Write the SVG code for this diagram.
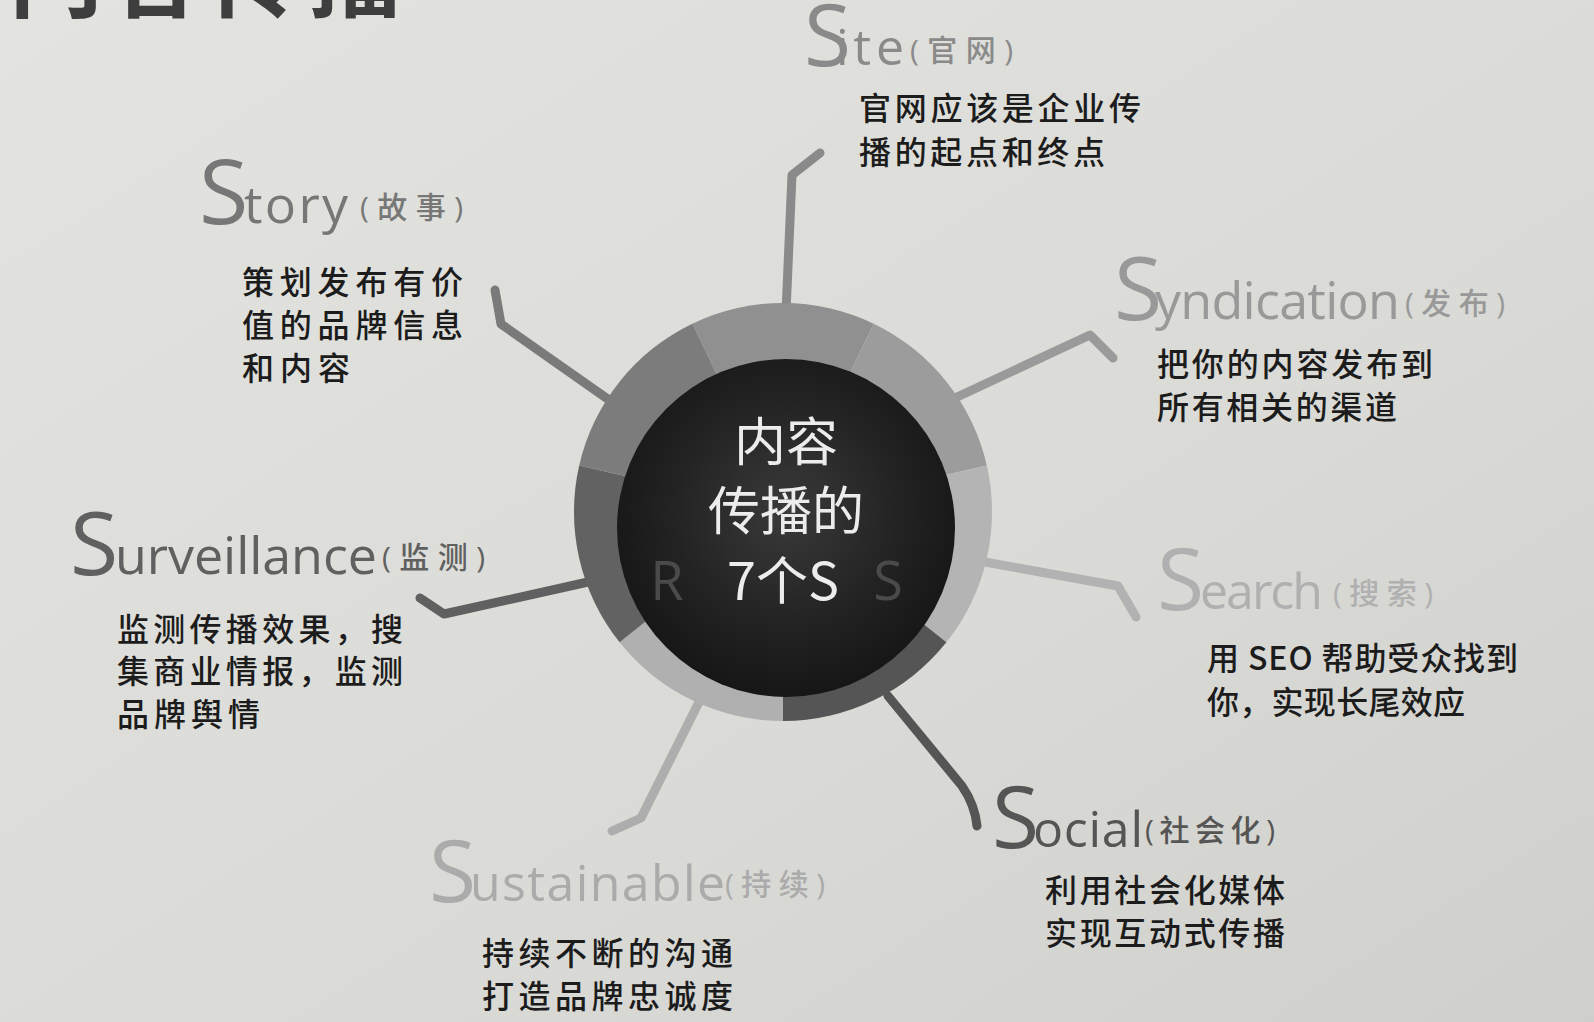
<svg xmlns="http://www.w3.org/2000/svg" width="1594" height="1022" viewBox="0 0 1594 1022">
<style>
.s{font-family:"Open Sans","Noto Sans",sans-serif;font-weight:400}
.w{font-family:"Open Sans","Noto Sans",sans-serif;font-weight:400}
.p{font-family:"Open Sans","Noto Sans CJK SC",sans-serif;font-weight:500;font-size:30px}
.d{font-family:"Noto Sans CJK SC",sans-serif;font-weight:500;font-size:32px;fill:#1c1c1c}
.c{font-family:"Noto Sans CJK SC",sans-serif;font-weight:400;font-size:52px;fill:#ececec;text-anchor:middle}
.sp{fill:none;stroke-width:9;stroke-linecap:round;stroke-linejoin:round}
</style>
<defs>
<linearGradient id="bg" x1="0" y1="0" x2="1" y2="1">
<stop offset="0" stop-color="#e3e3df"/>
<stop offset="0.6" stop-color="#dadad6"/>
<stop offset="1" stop-color="#cfcfcb"/>
</linearGradient>
<radialGradient id="core" cx="0.5" cy="0.45" r="0.55">
<stop offset="0" stop-color="#3a3a3a"/>
<stop offset="0.6" stop-color="#232323"/>
<stop offset="1" stop-color="#161616"/>
</radialGradient>
</defs>
<rect width="1594" height="1022" fill="url(#bg)"/>
<text x="8" y="9" font-family="Noto Sans CJK SC, sans-serif" font-weight="700" font-size="96" letter-spacing="4" fill="#3e3e3e">内容传播</text>

<g id="connectors">
<path class="sp" stroke="#8a8a8a" d="M786,312 L792,175 L820,153"/>
<path class="sp" stroke="#7a7a7a" d="M612,402 L501,324 L495,290"/>
<path class="sp" stroke="#9a9a9a" d="M955,398 L1090,335 L1113,358"/>
<path class="sp" stroke="#b2b2b2" d="M985,562 L1118,586 L1136,617"/>
<path class="sp" stroke="#555555" d="M888,696 L962,786 Q975,805 977,826"/>
<path class="sp" stroke="#adadad" d="M700,700 L641,818 L612,831"/>
<path class="sp" stroke="#606060" d="M588,582 L444,614 L420,598"/>
</g>

<g id="center">
<path fill="#909090" d="M783,512 L692.3,323.7 A209,209 0 0 1 873.7,323.7 Z"/>
<path fill="#9c9c9c" d="M783,512 L873.7,323.7 A209,209 0 0 1 986.8,465.5 Z"/>
<path fill="#b4b4b4" d="M783,512 L986.8,465.5 A209,209 0 0 1 946.4,642.3 Z"/>
<path fill="#555555" d="M783,512 L946.4,642.3 A209,209 0 0 1 783,721 Z"/>
<path fill="#b0b0b0" d="M783,512 L783,721 A209,209 0 0 1 619.6,642.3 Z"/>
<path fill="#626262" d="M783,512 L619.6,642.3 A209,209 0 0 1 579.2,465.5 Z"/>
<path fill="#7c7c7c" d="M783,512 L579.2,465.5 A209,209 0 0 1 692.3,323.7 Z"/>
<circle cx="786" cy="528" r="169" fill="url(#core)"/>
<text class="c" x="786" y="461">内容</text>
<text class="c" x="786" y="530">传播的</text>
<text x="667" y="600" font-family="Open Sans, sans-serif" font-size="54" fill="#4a4a4a" text-anchor="middle">R</text>
<text x="888" y="600" font-family="Open Sans, sans-serif" font-size="54" fill="#4a4a4a" text-anchor="middle">S</text>
<text class="c" x="783" y="600">7个S</text>
</g>

<g id="node-site">
<text class="s" x="804" y="66" font-size="86" fill="#8a8a8a">S</text>
<text class="w" x="836" y="65" font-size="50" fill="#8a8a8a" textLength="68">ite</text>
<text class="p" x="910" y="61" fill="#8a8a8a" textLength="103">(官网)</text>
<text class="d" x="859" y="120" textLength="282">官网应该是企业传</text>
<text class="d" x="859" y="164" textLength="246">播的起点和终点</text>
</g>

<g id="node-story">
<text class="s" x="199" y="224" font-size="90" fill="#777777">S</text>
<text class="w" x="244" y="223" font-size="52" fill="#777777" textLength="104">tory</text>
<text class="p" x="360" y="218" fill="#777777" textLength="103">(故事)</text>
<text class="d" x="242" y="294" textLength="221">策划发布有价</text>
<text class="d" x="242" y="337" textLength="221">值的品牌信息</text>
<text class="d" x="242" y="380" textLength="108">和内容</text>
</g>

<g id="node-syndication">
<text class="s" x="1114" y="320" font-size="88" fill="#999999">S</text>
<text class="w" x="1155" y="319" font-size="52" fill="#999999" textLength="245">yndication</text>
<text class="p" x="1405" y="314" fill="#999999" textLength="100">(发布)</text>
<text class="d" x="1157" y="376" textLength="276">把你的内容发布到</text>
<text class="d" x="1157" y="419" textLength="240">所有相关的渠道</text>
</g>

<g id="node-search">
<text class="s" x="1157" y="610" font-size="86" fill="#b0b0b0">S</text>
<text class="w" x="1200" y="609" font-size="50" fill="#b0b0b0" textLength="123">earch</text>
<text class="p" x="1333" y="604" fill="#b0b0b0" textLength="100">(搜索)</text>
<text class="d" x="1207" y="670" textLength="311">用 SEO 帮助受众找到</text>
<text class="d" x="1207" y="714" textLength="258">你，实现长尾效应</text>
</g>

<g id="node-social">
<text class="s" x="992" y="848" font-size="86" fill="#555555">S</text>
<text class="w" x="1033" y="847" font-size="50" fill="#555555" textLength="110">ocial</text>
<text class="p" x="1145" y="841" fill="#555555" textLength="130">(社会化)</text>
<text class="d" x="1045" y="902" textLength="240">利用社会化媒体</text>
<text class="d" x="1045" y="945" textLength="240">实现互动式传播</text>
</g>

<g id="node-sustainable">
<text class="s" x="429" y="902" font-size="86" fill="#ababab">S</text>
<text class="w" x="470" y="901" font-size="50" fill="#ababab" textLength="255">ustainable</text>
<text class="p" x="725" y="895" fill="#ababab" textLength="100">(持续)</text>
<text class="d" x="482" y="965" textLength="251">持续不断的沟通</text>
<text class="d" x="482" y="1008" textLength="251">打造品牌忠诚度</text>
</g>

<g id="node-surveillance">
<text class="s" x="70" y="575" font-size="88" fill="#606060">S</text>
<text class="w" x="115" y="574" font-size="52" fill="#606060" textLength="262">urveillance</text>
<text class="p" x="382" y="568" fill="#606060" textLength="103">(监测)</text>
<text class="d" x="117" y="641" textLength="286">监测传播效果，搜</text>
<text class="d" x="117" y="683" textLength="286">集商业情报，监测</text>
<text class="d" x="117" y="726" textLength="143">品牌舆情</text>
</g>
</svg>
